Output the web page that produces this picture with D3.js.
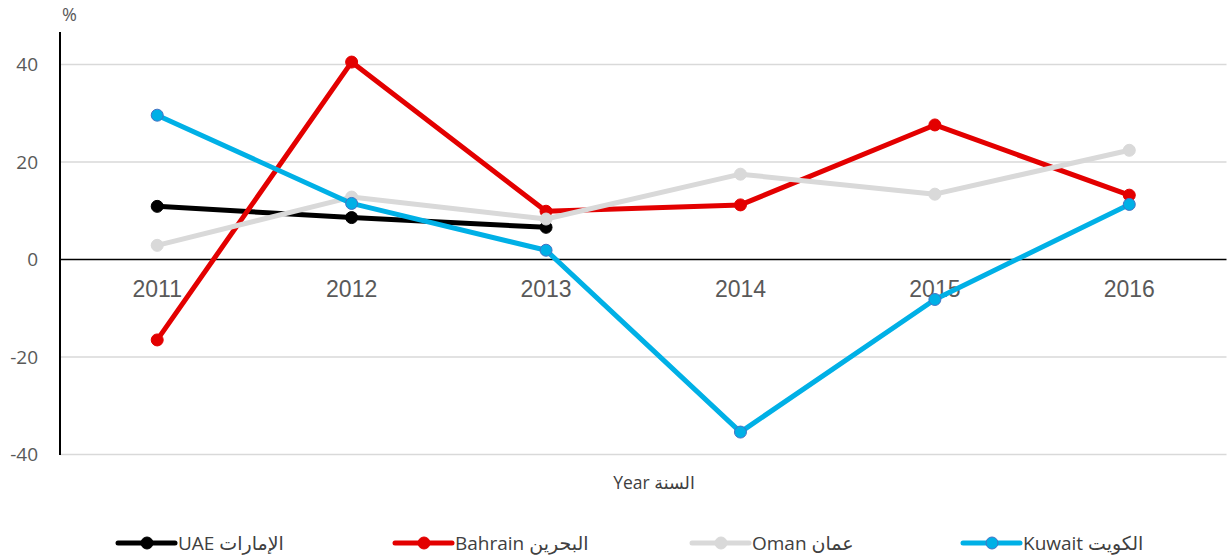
<!DOCTYPE html>
<html>
<head>
<meta charset="utf-8">
<script src="https://cdn.jsdelivr.net/npm/d3@7"></script>
<style>
  body { margin: 0; background: #fff; }
  svg { display: block; }
</style>
</head>
<body>
<svg id="chart" width="1227" height="556"></svg>
<script>
var years = ["2011", "2012", "2013", "2014", "2015", "2016"];
var yTicks = [-40, -20, 0, 20, 40];

var uae     = [10.9, 8.6, 6.6, null, null, null];
var bahrain = [-16.5, 40.5, 9.9, 11.2, 27.6, 13.2];
var oman    = [2.9, 12.8, 8.3, 17.5, 13.4, 22.4];
var kuwait  = [29.6, 11.5, 1.9, -35.4, -8.2, 11.3];

var seriesNames = ["UAE الإمارات", "Bahrain البحرين", "Oman عمان", "Kuwait الكويت"];
var seriesColors = ["#000000", "#e30000", "#d9d9d9", "#00b0e6"];
var seriesStroke = ["#000000", "#e30000", "#d9d9d9", "#4472c4"];

var series = [uae, bahrain, oman, kuwait];

var svg = d3.select("#chart");

var x = d3.scaleBand()
    .domain(years)
    .range([60, 1226.5]);

var y = d3.scaleLinear()
    .domain([-40, 40])
    .range([454.5, 64.5]);

// gridlines
svg.append("g")
    .selectAll("line")
    .data(yTicks.filter(function(d){ return d != 0; }))
    .enter()
    .append("line")
    .attr("x1", 60)
    .attr("x2", 1226.5)
    .attr("y1", function(d){ return y(d); })
    .attr("y2", function(d){ return y(d); })
    .attr("stroke", "#d9d9d9")
    .attr("stroke-width", 1.5);

// y axis (plain hyphen for negatives, like the original)
var yAxis = svg.append("g")
    .attr("transform", "translate(60,0)")
    .call(d3.axisLeft(y).tickValues(yTicks).tickSize(0).tickPadding(22)
        .tickFormat(function(d){ return String(d); }));
yAxis.select(".domain").remove();
yAxis.selectAll("text")
    .attr("font-family", "'Open Sans', 'DejaVu Sans', sans-serif")
    .attr("font-size", "19px")
    .attr("fill", "#595959");

svg.append("line")
    .attr("x1", 60).attr("x2", 60)
    .attr("y1", 32).attr("y2", 455)
    .attr("stroke", "#000")
    .attr("stroke-width", 2);

// zero line
svg.append("line")
    .attr("x1", 60).attr("x2", 1226.5)
    .attr("y1", y(0)).attr("y2", y(0))
    .attr("stroke", "#000")
    .attr("stroke-width", 1.5);

// x axis labels
var xAxis = svg.append("g")
    .attr("transform", "translate(0," + y(0) + ")")
    .call(d3.axisBottom(x).tickSize(0).tickPadding(21));
xAxis.select(".domain").remove();
xAxis.selectAll("text")
    .attr("font-family", "'Liberation Sans', Arial, sans-serif")
    .attr("font-size", "23px")
    .attr("fill", "#595959");

svg.append("text")
    .attr("x", 62).attr("y", 21)
    .attr("font-family", "'Open Sans', 'DejaVu Sans', sans-serif")
    .attr("font-size", "18px")
    .attr("fill", "#595959")
    .text("%");

svg.append("text")
    .attr("x", 654).attr("y", 489)
    .attr("text-anchor", "middle")
    .attr("direction", "ltr")
    .attr("font-family", "'Open Sans', 'DejaVu Sans', sans-serif")
    .attr("font-size", "17.5px")
    .attr("fill", "#404040")
    .text("Year السنة");

// lines
var line = d3.line()
    .defined(function(d){ return d != null; })
    .x(function(d, i){ return x(years[i]) + x.bandwidth() / 2; })
    .y(function(d){ return y(d); });

series.forEach(function(s, k){
    svg.append("path")
        .datum(s)
        .attr("d", line)
        .attr("fill", "none")
        .attr("stroke", seriesColors[k])
        .attr("stroke-width", 5)
        .attr("stroke-linejoin", "round");

    svg.append("g")
        .selectAll("circle")
        .data(s.map(function(v, i){ return {v: v, i: i}; }).filter(function(d){ return d.v != null; }))
        .enter()
        .append("circle")
        .attr("cx", function(d){ return x(years[d.i]) + x.bandwidth() / 2; })
        .attr("cy", function(d){ return y(d.v); })
        .attr("r", 6)
        .attr("fill", seriesColors[k])
        .attr("stroke", seriesStroke[k])
        .attr("stroke-width", 1);
});

// legend
var legendX = [118, 395, 692, 963];
var legend = svg.append("g")
    .selectAll("g")
    .data(seriesNames)
    .enter()
    .append("g")
    .attr("transform", function(d, i){ return "translate(" + legendX[i] + ",543)"; });

legend.append("line")
    .attr("x1", 0).attr("x2", 57)
    .attr("stroke", function(d, i){ return seriesColors[i]; })
    .attr("stroke-width", 5)
    .attr("stroke-linecap", "round");
legend.append("circle")
    .attr("cx", 29).attr("r", 6)
    .attr("fill", function(d, i){ return seriesColors[i]; })
    .attr("stroke", function(d, i){ return seriesStroke[i]; })
    .attr("stroke-width", 1);
legend.append("text")
    .attr("x", 60).attr("y", 7)
    .attr("direction", "ltr")
    .attr("font-family", "'Open Sans', 'DejaVu Sans', sans-serif")
    .attr("font-size", "19px")
    .attr("fill", "#404040")
    .text(function(d){ return d; });
</script>
</body>
</html>
